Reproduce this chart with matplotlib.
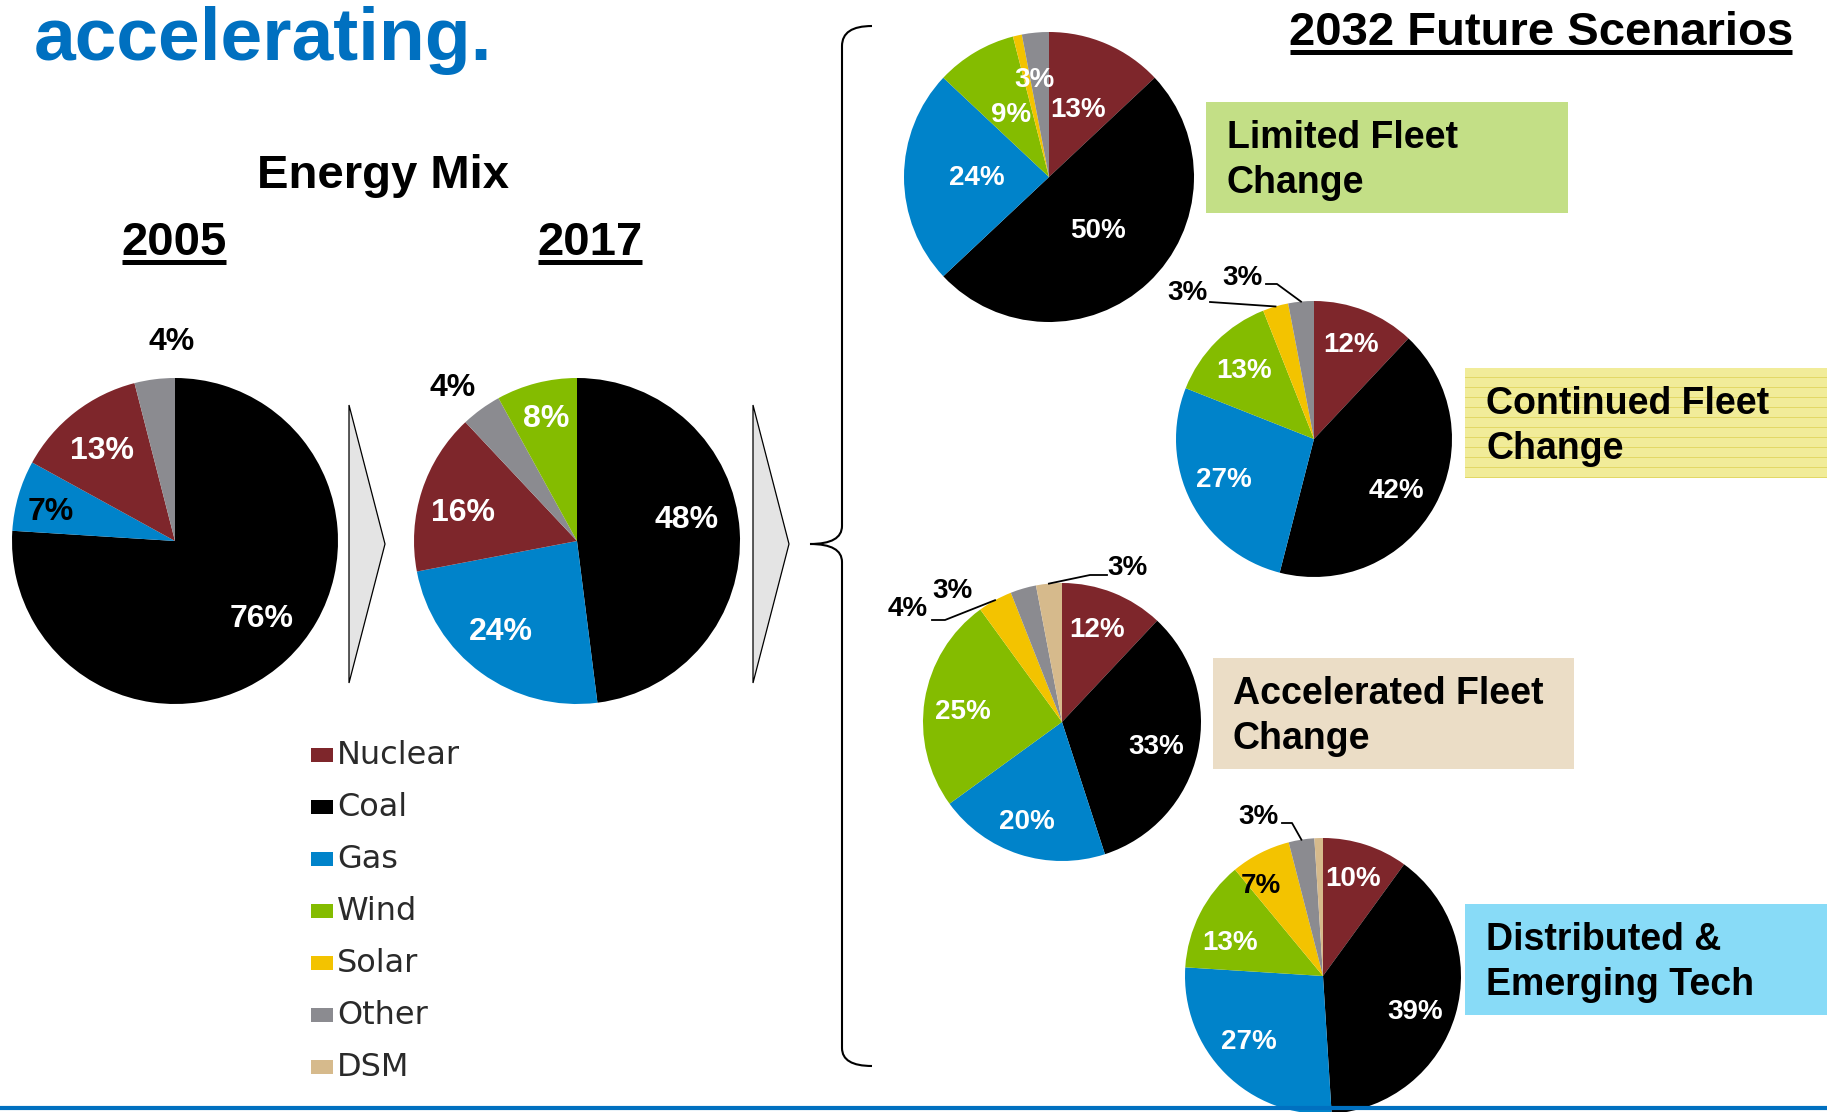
import numpy as np
import matplotlib.pyplot as plt
from matplotlib.patches import Rectangle, Polygon, PathPatch
from matplotlib.path import Path

plt.rcParams['font.family'] = ['Liberation Sans', 'DejaVu Sans']

W, H = 1827, 1112

# energy sources (legend order) and colours
sources = ['Nuclear', 'Coal', 'Gas', 'Wind', 'Solar', 'Other', 'DSM']
src_colors = ['#7E262B', '#000000', '#0083CA', '#84BC00', '#F3C300', '#8B8B90', '#D6BA8C']
color_of = dict(zip(sources, src_colors))

# historical mix, listed clockwise from 12 o'clock
mix_2005_src = ['Coal', 'Gas', 'Nuclear', 'Other']
mix_2005 = [76, 7, 13, 4]
mix_2017_src = ['Coal', 'Gas', 'Nuclear', 'Other', 'Wind']
mix_2017 = [48, 24, 16, 4, 8]

# 2032 scenarios, same order as sources
limited = [13, 50, 24, 9, 1, 3, 0]
continued = [12, 42, 27, 13, 3, 3, 0]
accelerated = [12, 33, 20, 25, 4, 3, 3]
distributed = [10, 39, 27, 13, 7, 3, 1]
scenario_names = ['Limited Fleet\nChange', 'Continued Fleet\nChange',
                  'Accelerated Fleet\nChange', 'Distributed &\nEmerging Tech']

fig = plt.figure(figsize=(W / 100, H / 100), dpi=100)
ax = fig.add_axes([0, 0, 1, 1])
ax.set_xlim(0, W)
ax.set_ylim(0, H)
ax.set_autoscale_on(False)


def fy(y):
    # pixel row (from top) -> data y
    return H - y


def rim(vals, i, cx, cy, r):
    frac = (sum(vals[:i]) + vals[i] / 2) / sum(vals)
    th = np.deg2rad(360 * frac)
    return cx + r * np.sin(th), cy - r * np.cos(th)


def draw_pie(vals, srcs, cx, cy, r, labs, fs):
    ax.pie(vals, colors=[color_of[s] for s in srcs], center=(cx, fy(cy)), radius=r,
           startangle=90, counterclock=False, frame=True,
           wedgeprops=dict(linewidth=0))
    for v, lab in zip(vals, labs):
        if lab is None:
            continue
        dx, dy, c = lab
        ax.text(cx + dx * r, fy(cy) + dy * r, f'{v}%', color=c, fontsize=fs,
                fontweight='bold', ha='center', va='center', zorder=5)


def leader(vals, i, cx, cy, r, pts):
    x, y = rim(vals, i, cx, cy, r)
    xs = [p[0] for p in pts] + [x]
    ys = [fy(p[1]) for p in pts] + [fy(y)]
    ax.plot(xs, ys, color='black', lw=1.3, zorder=4)


w, k = 'white', 'black'

# historical pies
draw_pie(mix_2005, mix_2005_src, 175, 541, 163,
         [(0.53, -0.48, w), (-0.76, 0.18, k), (-0.45, 0.55, w), (-0.02, 1.22, k)], 23)
draw_pie(mix_2017, mix_2017_src, 577, 541, 163,
         [(0.67, 0.13, w), (-0.47, -0.56, w), (-0.70, 0.17, w), (-0.76, 0.94, k),
          (-0.19, 0.75, w)], 23)

# scenario pies
draw_pie(limited, sources, 1049, 177, 145,
         [(0.20, 0.46, w), (0.34, -0.37, w), (-0.50, -0.01, w), (-0.26, 0.43, w),
          None, (-0.10, 0.67, w), None], 20)
draw_pie(continued, sources, 1314, 439, 138,
         [(0.27, 0.68, w), (0.60, -0.38, w), (-0.65, -0.30, w), (-0.51, 0.49, w),
          (-0.92, 1.06, k), (-0.52, 1.17, k), None], 20)
draw_pie(accelerated, sources, 1062, 722, 139,
         [(0.25, 0.66, w), (0.68, -0.18, w), (-0.25, -0.72, w), (-0.71, 0.07, w),
          (-1.11, 0.81, k), (-0.79, 0.94, k), (0.47, 1.11, k)], 20)
draw_pie(distributed, sources, 1323, 976, 138,
         [(0.22, 0.70, w), (0.67, -0.26, w), (-0.54, -0.48, w), (-0.67, 0.24, w),
          (-0.45, 0.65, k), (-0.47, 1.15, k), None], 20)

leader(continued, 4, 1314, 439, 138, [(1210, 302)])
leader(continued, 5, 1314, 439, 138, [(1266, 284), (1277, 284)])
leader(accelerated, 4, 1062, 722, 139, [(932, 620), (945, 620)])
leader(accelerated, 6, 1062, 722, 139, [(1107, 575), (1090, 575)])
leader(distributed, 5, 1323, 976, 138, [(1282, 823), (1292, 823)])

# titles
ax.text(34, fy(60), 'accelerating.', color='#0070C0', fontsize=54, fontweight='bold',
        va='baseline', ha='left')
ax.text(383, fy(188), 'Energy Mix', fontsize=34, fontweight='bold', ha='center', va='baseline')

renderer = fig.canvas.get_renderer()


def underlined(x, y, s, ha):
    t = ax.text(x, fy(y), s, fontsize=34, fontweight='bold', ha=ha, va='baseline')
    bb = t.get_window_extent(renderer).transformed(ax.transData.inverted())
    ax.plot([bb.x0 + 1, bb.x1 - 1], [fy(y + 7), fy(y + 7)], color='black', lw=3.6,
            solid_capstyle='butt')


underlined(174, 255, '2005', 'center')
underlined(590, 255, '2017', 'center')
underlined(1541, 45, '2032 Future Scenarios', 'center')

# arrows between the historical pies
for x0 in (349, 753):
    ax.add_patch(Polygon([(x0, fy(405)), (x0 + 36, fy(544)), (x0, fy(683))],
                         closed=True, facecolor='#E4E4E4', edgecolor='black', lw=0.9))

# curly brace
verts = [(872, 26), (842, 26), (842, 46), (842, 526), (842, 544), (810, 544),
         (842, 544), (842, 562), (842, 1048), (842, 1066), (872, 1066)]
codes = [Path.MOVETO, Path.CURVE3, Path.CURVE3, Path.LINETO, Path.CURVE3, Path.CURVE3,
         Path.CURVE3, Path.CURVE3, Path.LINETO, Path.CURVE3, Path.CURVE3]
ax.add_patch(PathPatch(Path([(x, fy(y)) for x, y in verts], codes),
                       facecolor='none', edgecolor='black', lw=1.5))

# scenario boxes
boxes = [(1206, 102, 1568, 213, '#C3DF86', 1227),
         (1465, 368, 1827, 478, '#F1EC99', 1486),
         (1213, 658, 1574, 769, '#EBDDC6', 1233),
         (1465, 904, 1827, 1015, '#88DBF7', 1486)]
for (x0, y0, x1, y1, fc, tx), name in zip(boxes, scenario_names):
    ax.add_patch(Rectangle((x0, fy(y1)), x1 - x0, y1 - y0, facecolor=fc,
                           edgecolor='none', zorder=1))
    if fc == '#F1EC99':
        for yl in np.arange(y0 + 9, y1, 10):
            ax.plot([x0, x1], [fy(yl), fy(yl)], color='#E2D865', lw=0.7, zorder=1.5)
    for j, line in enumerate(name.split('\n')):
        ax.text(tx, fy(y0 + 46 + 45 * j), line, fontsize=27, fontweight='bold',
                ha='left', va='baseline', zorder=3)

# legend
leg_y = [755, 807, 859, 911, 963, 1015, 1067]
for s, c, yy in zip(sources, src_colors, leg_y):
    ax.add_patch(Rectangle((311, fy(yy + 7)), 22, 14, facecolor=c, edgecolor='none'))
    ax.text(337, fy(yy), s, fontsize=23, color='#2a2a2a', ha='left', va='center',
            family=['DejaVu Sans'])

# bottom rule
ax.plot([0, W], [fy(1107.5), fy(1107.5)], color='#0070C0', lw=3, zorder=10)

ax.set_xlim(0, W)
ax.set_ylim(0, H)
ax.set_aspect('equal')
ax.axis('off')
fig.savefig('out.png', dpi=100)
